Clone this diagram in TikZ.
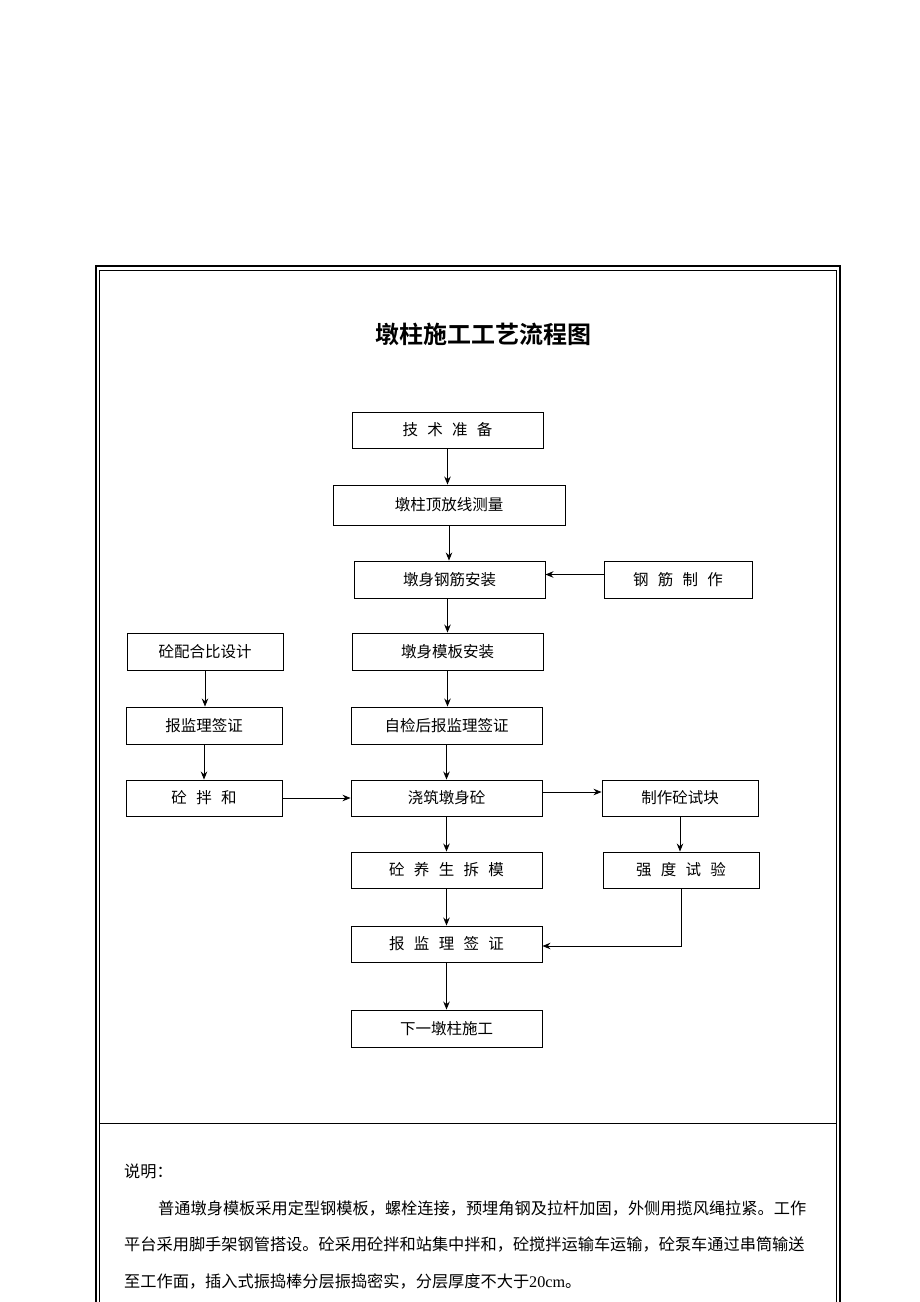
\documentclass[tikz,border=0pt]{standalone}
\usepackage{fontspec}
\setmainfont{Liberation Serif}
\newfontfamily\cjk[BoldFont={* Bold}]{Noto Sans CJK SC}
\usetikzlibrary{arrows.meta}
\tikzset{>={Stealth[length=8pt,width=6.5pt]}}
\newcommand\zgap{\hspace{0.6em}}

\begin{document}
\begin{tikzpicture}[x=1pt,y=-1pt,
  every node/.style={font=\cjk\fontsize{15.5}{18}\selectfont},
  box/.style={draw, line width=0.9pt, inner sep=0pt, minimum height=36pt},
  notetext/.style={anchor=west, inner sep=0pt, font=\cjk\fontsize{16.2}{20}\selectfont},
  flow/.style={->, line width=0.9pt}]
\useasboundingbox (0,0) rectangle (920,1302);
\clip (0,0) rectangle (920,1302);
% frame
\draw[line width=1.4pt] (96,1320) -- (96,266) -- (840,266) -- (840,1320);
\draw[line width=0.9pt] (99.5,1320) -- (99.5,270) -- (836.5,270) -- (836.5,1320);
\draw[line width=0.9pt] (99.5,1123) -- (836.5,1123);
% title
\node[font=\cjk\bfseries\fontsize{24}{28}\selectfont] (title) at (483,334) {墩柱施工工艺流程图};
% boxes
\node[box, minimum width=191pt] (prep) at (447.5,430) {技\zgap 术\zgap 准\zgap 备};
\node[box, minimum width=232pt, minimum height=40pt] (survey) at (449,505) {墩柱顶放线测量};
\node[box, minimum width=191pt, minimum height=37pt] (rebar) at (449.5,579.5) {墩身钢筋安装};
\node[box, minimum width=148pt, minimum height=37pt] (rebarmake) at (678,579.5) {钢\zgap 筋\zgap 制\zgap 作};
\node[box, minimum width=156pt, minimum height=37pt] (mixdesign) at (205,651.5) {砼配合比设计};
\node[box, minimum width=191pt, minimum height=37pt] (form) at (447.5,651.5) {墩身模板安装};
\node[box, minimum width=156pt, minimum height=37pt] (approveL) at (204,725.5) {报监理签证};
\node[box, minimum width=191pt, minimum height=37pt] (selfcheck) at (446.5,725.5) {自检后报监理签证};
\node[box, minimum width=156pt] (mixing) at (204,798) {砼\zgap 拌\zgap 和};
\node[box, minimum width=191pt] (pour) at (446.5,798) {浇筑墩身砼};
\node[box, minimum width=156pt] (sample) at (680,798) {制作砼试块};
\node[box, minimum width=191pt] (cure) at (446.5,870) {砼\zgap 养\zgap 生\zgap 拆\zgap 模};
\node[box, minimum width=156pt] (strength) at (681,870) {强\zgap 度\zgap 试\zgap 验};
\node[box, minimum width=191pt] (approve) at (446.5,944) {报\zgap 监\zgap 理\zgap 签\zgap 证};
\node[box, minimum width=191pt, minimum height=37pt] (next) at (446.5,1028.5) {下一墩柱施工};
% arrows
\draw[flow] (prep.south) -- (prep.south |- survey.north);
\draw[flow] (survey.south) -- (survey.south |- rebar.north);
\draw[flow] ([yshift=5pt]rebarmake.west) -- ([yshift=5pt]rebarmake.west -| rebar.east);
\draw[flow] (rebar.south -| form.north) -- (form.north);
\draw[flow] (mixdesign.south) -- (mixdesign.south |- approveL.north);
\draw[flow] (approveL.south) -- (approveL.south |- mixing.north);
\draw[flow] (form.south) -- (form.south |- selfcheck.north);
\draw[flow] (selfcheck) -- (pour);
\draw[flow] (mixing) -- (pour);
\draw[flow] ([yshift=6pt]pour.east) -- ([yshift=6pt]pour.east -| sample.west);
\draw[flow] (sample.south) -- (sample.south |- strength.north);
\draw[flow] (pour) -- (cure);
\draw[flow] (cure) -- (approve);
\draw[flow] (strength.south) |- ([yshift=-2pt]approve.east);
\draw[flow] (approve) -- (next);
% notes
\node[notetext] (note) at (124,1171) {说明：};
\node[notetext] (line1) at (158,1208) {普通墩身模板采用定型钢模板，螺栓连接，预埋角钢及拉杆加固，外侧用揽风绳拉紧。工作};
\node[notetext] (line2) at (124,1245) {平台采用脚手架钢管搭设。砼采用砼拌和站集中拌和，砼搅拌运输车运输，砼泵车通过串筒输送};
\node[notetext] (line3) at (124,1281) {至工作面，插入式振捣棒分层振捣密实，分层厚度不大于{\rmfamily 20cm}。};
\end{tikzpicture}
\end{document}
